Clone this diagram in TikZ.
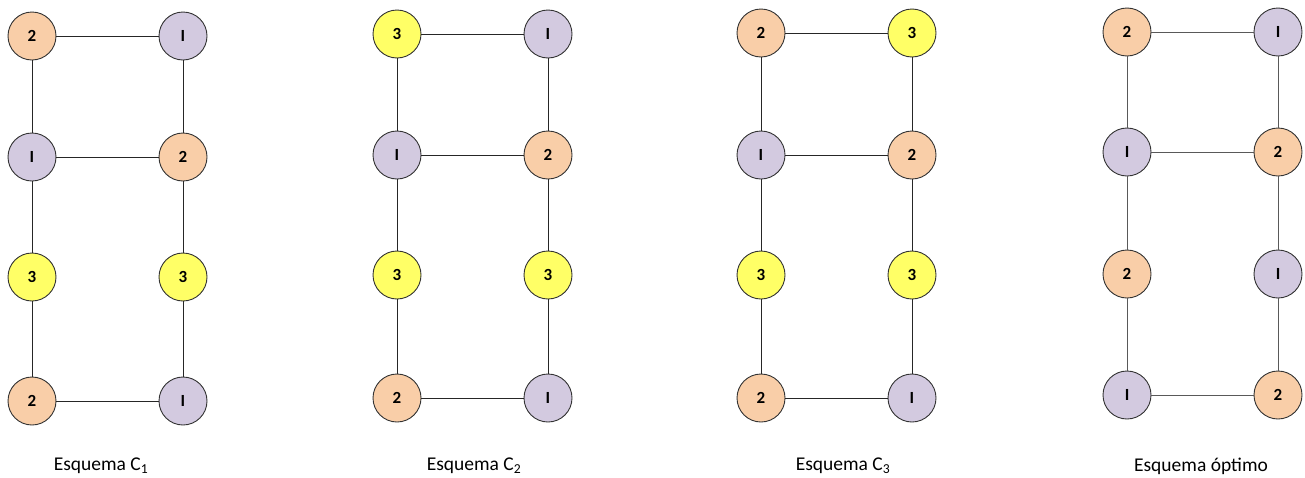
\documentclass[tikz,border=0pt]{standalone}
\usepackage{fontspec}
\setmainfont{Carlito}
\definecolor{lila}{HTML}{D3CAE0}
\definecolor{melon}{HTML}{F9CEA8}
\definecolor{limon}{HTML}{FFFF66}
\tikzset{
  col/.style={circle,draw=black!80,line width=0.9pt,minimum size=48pt,
    font=\bfseries\fontsize{17}{17}\selectfont},
  col1/.style={col,fill=lila},
  col2/.style={col,fill=melon},
  col3/.style={col,fill=limon},
  lab/.style={font=\fontsize{19.5}{19.5}\selectfont},
}

\begin{document}
\begin{tikzpicture}[x=1pt,y=-1pt,inner sep=0pt,line width=1pt]
\useasboundingbox (0,0) rectangle (1305,477);

% esquema C_1
\node[col2] (a11) at (32,36) {2};
\node[col1] (a12) at (183,36) {I};
\node[col1] (a21) at (32,157) {I};
\node[col2] (a22) at (183,157) {2};
\node[col3] (a31) at (32,277) {3};
\node[col3] (a32) at (183,277) {3};
\node[col2] (a41) at (32,401) {2};
\node[col1] (a42) at (183,401) {I};
\node[lab] (la) at (101,466) {Esquema C\textsubscript{1}};

% esquema C_2
\node[col3] (b11) at (397,34) {3};
\node[col1] (b12) at (548,34) {I};
\node[col1] (b21) at (397,155) {I};
\node[col2] (b22) at (548,155) {2};
\node[col3] (b31) at (397,275) {3};
\node[col3] (b32) at (548,275) {3};
\node[col2] (b41) at (397,398) {2};
\node[col1] (b42) at (548,398) {I};
\node[lab] (lb) at (474,466) {Esquema C\textsubscript{2}};

% esquema C_3
\node[col2] (c11) at (761,33) {2};
\node[col3] (c12) at (912,33) {3};
\node[col1] (c21) at (761,155) {I};
\node[col2] (c22) at (912,155) {2};
\node[col3] (c31) at (761,275) {3};
\node[col3] (c32) at (912,275) {3};
\node[col2] (c41) at (761,398) {2};
\node[col1] (c42) at (912,398) {I};
\node[lab] (lc) at (843,466) {Esquema C\textsubscript{3}};

% esquema optimo
\node[col2] (d11) at (1127,32) {2};
\node[col1] (d12) at (1278,32) {I};
\node[col1] (d21) at (1127,152) {I};
\node[col2] (d22) at (1278,152) {2};
\node[col2] (d31) at (1127,274) {2};
\node[col1] (d32) at (1278,274) {I};
\node[col1] (d41) at (1127,395) {I};
\node[col2] (d42) at (1278,395) {2};
\node[lab] (ld) at (1201,466) {Esquema óptimo};

\draw[black!85] (a11) -- (a21) -- (a31) -- (a41) -- (a42) -- (a32) -- (a22) -- (a12) -- (a11);
\draw[black!85] (a21) -- (a22);
\draw[black!85] (b11) -- (b21) -- (b31) -- (b41) -- (b42) -- (b32) -- (b22) -- (b12) -- (b11);
\draw[black!85] (b21) -- (b22);
\draw[black!85] (c11) -- (c21) -- (c31) -- (c41) -- (c42) -- (c32) -- (c22) -- (c12) -- (c11);
\draw[black!85] (c21) -- (c22);
\draw[black!65] (d11) -- (d21) -- (d31) -- (d41) -- (d42) -- (d32) -- (d22) -- (d12) -- (d11);
\draw[black!65] (d21) -- (d22);
\end{tikzpicture}
\end{document}
